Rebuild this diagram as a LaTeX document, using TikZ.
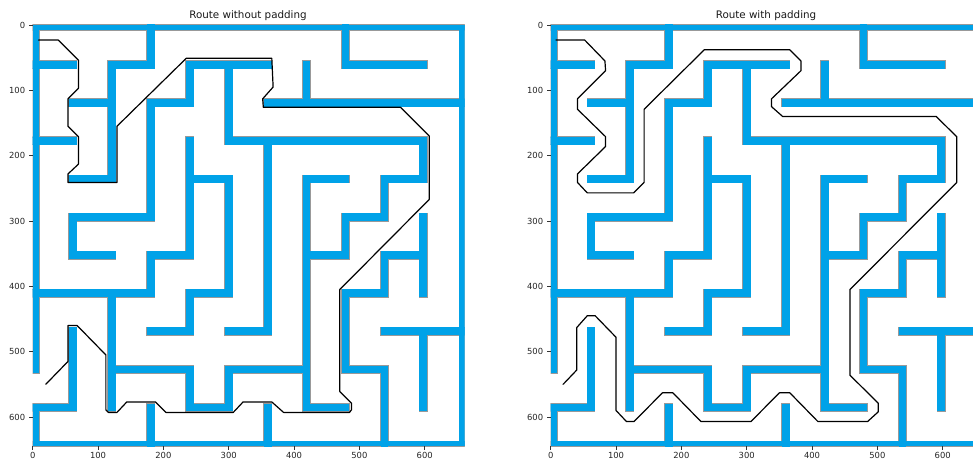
\documentclass[tikz,border=0pt]{standalone}
\usepackage{fontspec}
\setmainfont{DejaVu Sans}
\definecolor{wallblue}{RGB}{0,162,232}
\newcommand\vwall[3]{\path[wallpath] ({2+59.6*#1-6},{2.5+58.3*#2-6}) rectangle ({2+59.6*#1+6},{2.5+58.3*#3+6});}
\newcommand\hwall[3]{\path[wallpath] ({2+59.6*#2-6},{2.5+58.3*#1-6}) rectangle ({2+59.6*#3+6},{2.5+58.3*#1+6});}
\newcommand\mazewalls{%
 \path[wallpath] (0,0) rectangle (661,8);
 \path[wallpath] (0,0) rectangle (10,533);
 \path[wallpath] (0,579.5) rectangle (10,645);
 \path[wallpath] (0,637) rectangle (661,645);
 \path[wallpath] (653,0) rectangle (661,645);
 \hwall{1}{0}{1}\hwall{1}{2}{3}\hwall{1}{4}{6}\hwall{1}{8}{10}
 \hwall{2}{1}{2}\hwall{2}{3}{4}\hwall{2}{6}{11}
 \hwall{3}{0}{1}\hwall{3}{5}{10}
 \hwall{4}{1}{2}\hwall{4}{4}{5}\hwall{4}{7}{8}\hwall{4}{9}{10}
 \hwall{5}{1}{3}\hwall{5}{8}{9}
 \hwall{6}{1}{2}\hwall{6}{3}{4}\hwall{6}{7}{8}\hwall{6}{9}{10}
 \hwall{7}{0}{3}\hwall{7}{4}{5}\hwall{7}{8}{9}
 \hwall{8}{3}{4}\hwall{8}{5}{6}\hwall{8}{9}{11}
 \hwall{9}{2}{4}\hwall{9}{5}{7}\hwall{9}{8}{9}
 \hwall{10}{0}{1}\hwall{10}{4}{5}\hwall{10}{7}{8}
 \vwall{1}{5}{6}\vwall{1}{8}{10}
 \vwall{2}{1}{4}\vwall{2}{7}{10}
 \vwall{3}{0}{1}\vwall{3}{2}{5}\vwall{3}{6}{7}\vwall{3}{10}{11}
 \vwall{4}{1}{2}\vwall{4}{3}{6}\vwall{4}{7}{8}\vwall{4}{9}{10}
 \vwall{5}{1}{3}\vwall{5}{4}{7}\vwall{5}{9}{10}
 \vwall{6}{3}{8}\vwall{6}{10}{11}
 \vwall{7}{1}{2}\vwall{7}{4}{10}
 \vwall{8}{0}{1}\vwall{8}{5}{6}\vwall{8}{7}{9}
 \vwall{9}{4}{5}\vwall{9}{6}{7}\vwall{9}{9}{11}
 \vwall{10}{3}{4}\vwall{10}{5}{7}\vwall{10}{8}{10}
}
\newcommand\drawmaze{%
 \clip (0,0) rectangle (661,645);
 \begin{scope}[wallpath/.style={draw=black!40, line width=0.8pt}]\mazewalls\end{scope}
 \begin{scope}[wallpath/.style={fill=wallblue}]\mazewalls\end{scope}
}
\begin{document}
\begin{tikzpicture}[x=0.75pt,y=-0.75pt,
  tick/.style={draw=black!80, line width=0.6pt},
  ticklabel/.style={font=\fontsize{6.3}{7}\selectfont, text=black!85, inner sep=0pt},
  titlelabel/.style={font=\fontsize{7.75}{9}\selectfont, text=black!90, inner sep=0pt},
  route/.style={draw=black, line width=0.9pt, line join=round, line cap=round},
  wallpath/.style={}]
\clip (0,0) rectangle (973,463);
\fill[white] (0,0) rectangle (973,463);

% left maze: route without padding
\begin{scope}[shift={(32.7,25)}, scale=0.6533]
 \drawmaze
 \draw[route] plot coordinates {(9,23) (39,23) (70,54) (70,97) (54,113) (54,155) (70,171) (70,213) (54,228) (54,241) (129,241) (129,155) (235,51) (366,51) (368,95) (352,113) (353,126) (563,126) (607,170) (607,267) (470,405) (470,561) (488,579) (488,589) (485,593) (384,593) (366,577) (322,577) (307,593) (204,593) (188,577) (144,577) (129,593) (116,593) (112,589) (112,505) (68,460) (54,460) (54,515) (20,550)};
\end{scope}

% right maze: route with padding
\begin{scope}[shift={(550.7,25)}, scale=0.6533]
 \drawmaze
 \draw[route] plot coordinates {(8,23) (52,23) (83,55) (84,70) (41,113) (41,129) (84,171) (84,186) (41,228) (41,241) (56,257) (127,257) (143,241) (143,129) (235,38) (366,38) (383,55) (383,70) (338,113) (338,125) (355,140) (590,140) (621.5,171) (621.5,241) (458,405) (458,536) (501.5,579) (501.5,592) (485,607) (409,607) (366,563) (350,563) (306.5,607) (230,607) (187,563) (171,563) (127.5,607) (116,607) (100,590) (100,478) (68,445) (56,445) (40,463) (40,528) (19,550)};
\end{scope}

% axes ticks and labels
\foreach \ox/\k in {32.7/L, 550.7/R} {
  \foreach \v in {0,100,...,600} {
    \draw[tick] ({\ox-3.5},{25+0.6533*\v}) -- ({\ox},{25+0.6533*\v});
    \node[ticklabel, anchor=east] (yl\k\v) at ({\ox-7.3},{25+0.6533*\v}) {\v};
    \draw[tick] ({\ox+0.6533*\v},446.4) -- ({\ox+0.6533*\v},449.9);
    \node[ticklabel, anchor=north] (xl\k\v) at ({\ox+0.6533*\v},452.3) {\v};
  }
}

\node[titlelabel, anchor=base] (titleL) at (248,19) {Route without padding};
\node[titlelabel, anchor=base] (titleR) at (766,19) {Route with padding};
\end{tikzpicture}
\end{document}
